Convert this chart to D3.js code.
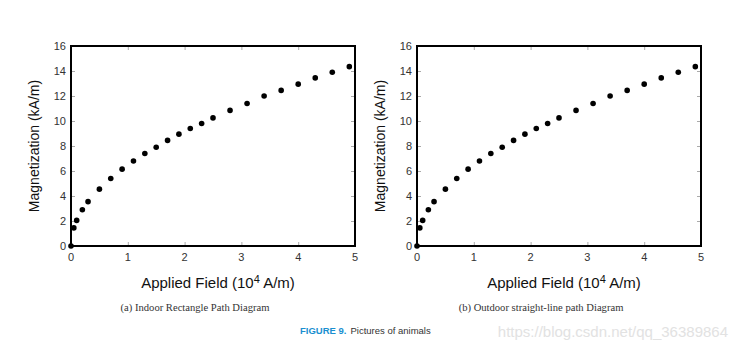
<!DOCTYPE html>
<html>
<head>
<meta charset="utf-8">
<script src="https://cdn.jsdelivr.net/npm/d3@7"></script>
<style>
  body { margin: 0; background: #fff; }
  svg text { font-family: "Liberation Sans", Arial, sans-serif; }
</style>
</head>
<body>
<svg id="fig" width="736" height="351"></svg>
<script>
// data (10^4 A/m, kA/m)
var fieldA = [0, 0.05, 0.1, 0.2, 0.3, 0.5, 0.7, 0.9, 1.1, 1.3, 1.5, 1.7, 1.9, 2.1, 2.3, 2.5, 2.8, 3.1, 3.4, 3.7, 4.0, 4.3, 4.6, 4.9];
var magA = [0, 1.45, 2.05, 2.9, 3.55, 4.55, 5.4, 6.15, 6.8, 7.4, 7.9, 8.45, 8.95, 9.4, 9.8, 10.25, 10.85, 11.4, 12.0, 12.45, 12.95, 13.45, 13.9, 14.35];
var fieldB = [0, 0.05, 0.1, 0.2, 0.3, 0.5, 0.7, 0.9, 1.1, 1.3, 1.5, 1.7, 1.9, 2.1, 2.3, 2.5, 2.8, 3.1, 3.4, 3.7, 4.0, 4.3, 4.6, 4.9];
var magB = [0, 1.45, 2.05, 2.9, 3.55, 4.55, 5.4, 6.15, 6.8, 7.4, 7.9, 8.45, 8.95, 9.4, 9.8, 10.25, 10.85, 11.4, 12.0, 12.45, 12.95, 13.45, 13.9, 14.35];
var xTicks = [0, 1, 2, 3, 4, 5];
var yTicks = [0, 2, 4, 6, 8, 10, 12, 14, 16];
var captions = ["(a) Indoor Rectangle Path Diagram", "(b) Outdoor straight-line path Diagram"];

var svg = d3.select("#fig");

var panels = [
  { left: 71, x: fieldA, y: magA, cap: captions[0] },
  { left: 417, x: fieldB, y: magB, cap: captions[1] }
];
var plotTop = 46, plotBottom = 246, w = 284;

panels.forEach(function (p) {
  var x = d3.scaleLinear().domain([0, 5]).range([p.left, p.left + w]);
  var y = d3.scaleLinear().domain([0, 16]).range([plotBottom, plotTop]);
  var g = svg.append("g");

  // inward ticks on all four sides
  g.append("g").attr("transform", "translate(0," + plotBottom + ")")
    .call(d3.axisTop(x).tickValues(xTicks).tickSize(4).tickFormat(""));
  g.append("g").attr("transform", "translate(0," + plotTop + ")")
    .call(d3.axisBottom(x).tickValues(xTicks).tickSize(4).tickFormat(""));
  g.append("g").attr("transform", "translate(" + p.left + ",0)")
    .call(d3.axisRight(y).tickValues(yTicks).tickSize(4).tickFormat(""));
  g.append("g").attr("transform", "translate(" + (p.left + w) + ",0)")
    .call(d3.axisLeft(y).tickValues(yTicks).tickSize(4).tickFormat(""));
  g.selectAll(".domain").remove();
  g.selectAll(".tick line").attr("stroke", "#aaa");

  // tick labels
  g.selectAll(".xl").data(xTicks).enter().append("text")
    .attr("x", function (d) { return x(d); })
    .attr("y", plotBottom + 15)
    .attr("text-anchor", "middle")
    .attr("font-size", 11).attr("fill", "#333")
    .text(function (d) { return d; });
  g.selectAll(".yl").data(yTicks).enter().append("text")
    .attr("x", p.left - 5)
    .attr("y", function (d) { return y(d) + 4; })
    .attr("text-anchor", "end")
    .attr("font-size", 11).attr("fill", "#333")
    .text(function (d) { return d; });

  // frame
  g.append("rect")
    .attr("x", p.left).attr("y", plotTop)
    .attr("width", w).attr("height", plotBottom - plotTop)
    .attr("fill", "none").attr("stroke", "#000").attr("stroke-width", 2);

  // points
  g.selectAll("circle").data(p.x).enter().append("circle")
    .attr("cx", function (d) { return x(d); })
    .attr("cy", function (d, i) { return y(p.y[i]); })
    .attr("r", 2.8).attr("fill", "#000");

  // axis titles
  var xt = g.append("text")
    .attr("x", p.left + w / 2 + 5).attr("y", 288)
    .attr("text-anchor", "middle").attr("font-size", 15).attr("fill", "#111");
  xt.append("tspan").text("Applied Field (10");
  xt.append("tspan").attr("dy", -5).attr("font-size", 11).text("4");
  xt.append("tspan").attr("dy", 5).text(" A/m)");

  g.append("text")
    .attr("transform", "translate(" + (p.left - 32) + "," + ((plotTop + plotBottom) / 2) + ") rotate(-90)")
    .attr("text-anchor", "middle").attr("font-size", 14).attr("fill", "#111")
    .text("Magnetization (kA/m)");

  g.append("text")
    .attr("x", p.left + w / 2 - 18).attr("y", 311)
    .attr("text-anchor", "middle").attr("font-size", 10.6)
    .style("font-family", "'Liberation Serif', 'Times New Roman', serif")
    .attr("fill", "#333")
    .text(p.cap);
});

var fig = svg.append("text").attr("x", 300).attr("y", 334).attr("font-size", 9.5);
fig.append("tspan").attr("fill", "#1a8fd0").attr("font-weight", "bold").text("FIGURE 9.");
fig.append("tspan").attr("fill", "#333").attr("dx", 4).text("Pictures of animals");

svg.append("text")
  .attr("x", 728).attr("y", 337)
  .attr("text-anchor", "end").attr("font-size", 15).attr("fill", "#e2e2e2")
  .text("https://blog.csdn.net/qq_36389864");
</script>
</body>
</html>
